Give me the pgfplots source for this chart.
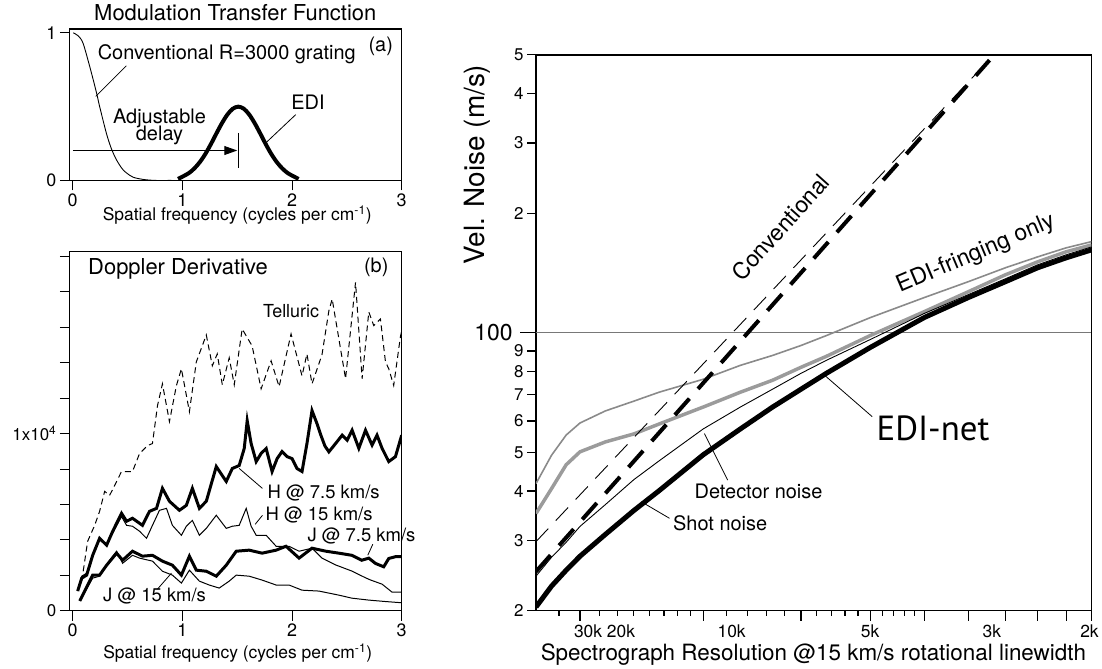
\documentclass[border=0pt]{standalone}
\usepackage{fontspec}
\setmainfont{TeX Gyre Heros}
\newfontfamily\myriad{PT Sans}
\usepackage{pgfplots}
\pgfplotsset{compat=1.18}
\usetikzlibrary{arrows.meta}
\newcommand\fs[1]{\fontsize{#1}{#1}\selectfont}
\definecolor{thingray}{RGB}{138,138,138}
\definecolor{thickgray}{RGB}{155,155,155}
\definecolor{hgray}{RGB}{120,120,120}
\begin{document}
\begin{tikzpicture}
\begin{scope}[x=1pt,y=1pt]
\useasboundingbox (0,0) rectangle (1102,-671);
\end{scope}
% ---------------- panel (a)
\begin{axis}[at={(70pt,-181pt)}, anchor=south west, scale only axis,
  width=333pt, height=152pt,
  xmin=-0.027, xmax=3.0, ymin=0, ymax=1.027,
  axis line style={line width=1.2pt},
  xtick={0,1,2,3}, xticklabels={0,1,2,3},
  ytick={0,1}, yticklabels={0,1},
  tick align=outside, major tick length=10pt,
  xtick pos=left, ytick pos=left,
  tick style={line width=1pt,black},
  ticklabel style={font=\fs{18}},
  /pgf/number format/assume math mode=true,
  clip mode=individual]
\addplot[black, line width=0.9pt, smooth] coordinates {
(0.005,1.0)(0.05,0.98)(0.094,0.93)(0.155,0.772)(0.215,0.60)(0.245,0.502)(0.306,0.322)
(0.35,0.22)(0.397,0.142)(0.45,0.08)(0.488,0.052)(0.55,0.022)(0.64,0.007)(0.75,0.0)(0.9,0.0)};
\addplot[black, line width=4pt, smooth] coordinates {
(0.96,0.010)(1.01,0.029)(1.06,0.050)(1.11,0.082)(1.16,0.125)(1.21,0.180)(1.26,0.246)
(1.31,0.318)(1.36,0.387)(1.41,0.446)(1.46,0.486)(1.51,0.5)(1.56,0.486)(1.61,0.446)
(1.66,0.387)(1.71,0.318)(1.76,0.246)(1.81,0.180)(1.86,0.125)(1.91,0.082)(1.96,0.050)
(2.01,0.029)(2.06,0.010)};
\end{axis}
% ---------------- panel (b)
\begin{axis}[at={(70pt,-612.7pt)}, anchor=south west, scale only axis,
  width=333pt, height=360.7pt,
  xmin=-0.027, xmax=3.0, ymin=0, ymax=2.03,
  axis line style={line width=1.2pt},
  xtick={0,1,2,3}, xticklabels={0,1,2,3},
  ytick={0,0.2,0.4,0.6,0.8,1.0,1.2,1.4,1.6,1.8,2.0},
  yticklabels={0,{},{},{},{},{1x10\textsuperscript{4}},{},{},{},{},{}},
  tick align=outside, major tick length=10pt,
  xtick pos=left, ytick pos=left,
  tick style={line width=1pt,black},
  xticklabel style={font=\fs{18}},
  yticklabel style={font=\fs{17}},
  /pgf/number format/assume math mode=true,
  clip mode=individual]
% Telluric
\addplot[black, line width=1pt, dash pattern=on 6pt off 4pt] coordinates {
(0.082,0.167)(0.136,0.392)(0.200,0.482)(0.245,0.561)(0.291,0.674)(0.336,0.651)(0.382,0.707)
(0.445,0.786)(0.545,0.786)(0.609,0.887)(0.682,0.932)(0.727,0.944)(0.773,1.158)(0.818,1.281)
(0.882,1.068)(0.945,1.270)(0.991,1.366)(1.064,1.124)(1.127,1.405)(1.218,1.557)(1.273,1.383)
(1.318,1.450)(1.364,1.276)(1.427,1.428)(1.473,1.276)(1.545,1.591)(1.636,1.495)(1.718,1.253)
(1.809,1.411)(1.882,1.265)(1.991,1.563)(2.091,1.326)(2.136,1.450)(2.182,1.281)(2.273,1.445)
(2.336,1.694)(2.366,1.760)(2.488,1.310)(2.579,1.854)(2.639,1.310)(2.700,1.687)(2.745,1.610)
(2.806,1.647)(2.852,1.405)(2.882,1.366)(2.927,1.272)(2.988,1.546)(3.0,1.58)};
% H @ 7.5
\addplot[black, line width=3pt] coordinates {
(0.045,0.111)(0.082,0.184)(0.127,0.201)(0.182,0.313)(0.245,0.409)(0.309,0.370)(0.364,0.448)
(0.445,0.550)(0.491,0.505)(0.545,0.522)(0.636,0.482)(0.700,0.561)(0.764,0.578)(0.818,0.691)
(0.882,0.618)(0.973,0.567)(1.036,0.595)(1.091,0.691)(1.155,0.578)(1.218,0.618)(1.309,0.814)
(1.400,0.730)(1.455,0.803)(1.518,0.820)(1.564,0.916)(1.591,1.073)(1.627,0.944)(1.673,0.842)
(1.718,0.888)(1.764,0.916)(1.818,0.786)(1.864,0.859)(1.909,0.899)(1.955,0.870)(2.000,0.859)
(2.045,0.803)(2.091,0.786)(2.136,0.944)(2.182,1.130)(2.227,1.057)(2.264,0.989)(2.300,0.930)
(2.336,0.897)(2.397,0.944)(2.457,0.991)(2.503,0.963)(2.548,1.019)(2.609,0.917)(2.670,1.019)
(2.730,0.935)(2.775,0.991)(2.821,0.917)(2.882,0.842)(2.943,0.870)(3.0,0.991)};
% H @ 15
\addplot[black, line width=1pt] coordinates {
(0.045,0.111)(0.082,0.195)(0.127,0.212)(0.182,0.319)(0.245,0.403)(0.309,0.375)(0.364,0.437)
(0.445,0.532)(0.491,0.482)(0.545,0.477)(0.609,0.449)(0.673,0.409)(0.727,0.482)(0.791,0.567)
(0.855,0.578)(0.909,0.482)(0.991,0.426)(1.036,0.477)(1.091,0.510)(1.155,0.426)(1.218,0.465)
(1.309,0.539)(1.400,0.465)(1.455,0.477)(1.518,0.482)(1.582,0.578)(1.627,0.477)(1.673,0.426)
(1.764,0.426)(1.855,0.364)(1.973,0.364)(2.064,0.336)(2.182,0.353)(2.273,0.297)(2.400,0.258)
(2.545,0.224)(2.673,0.185)(2.718,0.173)(2.821,0.15)(2.912,0.105)(3.0,0.105)};
% J @ 7.5
\addplot[black, line width=3pt] coordinates {
(0.064,0.055)(0.182,0.201)(0.245,0.201)(0.309,0.257)(0.400,0.325)(0.455,0.285)(0.545,0.336)
(0.636,0.308)(0.727,0.313)(0.818,0.280)(0.909,0.257)(0.991,0.201)(1.064,0.308)(1.127,0.229)
(1.218,0.223)(1.309,0.195)(1.400,0.257)(1.491,0.336)(1.609,0.342)(1.727,0.325)(1.855,0.342)
(1.945,0.364)(2.064,0.297)(2.182,0.353)(2.309,0.336)(2.427,0.325)(2.545,0.313)(2.636,0.285)
(2.700,0.297)(2.761,0.267)(2.836,0.248)(2.882,0.295)(2.943,0.305)(3.0,0.305)};
% J @ 15
\addplot[black, line width=1pt] coordinates {
(0.064,0.055)(0.182,0.184)(0.245,0.195)(0.336,0.285)(0.400,0.336)(0.455,0.268)(0.545,0.313)
(0.609,0.297)(0.727,0.280)(0.818,0.223)(0.909,0.201)(0.991,0.156)(1.064,0.229)(1.155,0.167)
(1.245,0.145)(1.336,0.128)(1.427,0.167)(1.491,0.201)(1.609,0.195)(1.727,0.173)(1.855,0.145)
(1.973,0.145)(2.091,0.116)(2.245,0.111)(2.427,0.088)(2.545,0.071)(2.700,0.060)(2.85,0.052)(3.0,0.045)};
\end{axis}
% ---------------- right panel
\begin{axis}[at={(537.7pt,-612.7pt)}, anchor=south west, scale only axis,
  width=557.3pt, height=557.7pt,
  xmode=log, ymode=log, xmin=15, xmax=150, ymin=20, ymax=500,
  xtick=\empty, minor x tick num=0,
  ytick={20,30,40,50,60,70,80,90,100,200,300,400,500},
  yticklabels={2,3,4,5,6,7,8,9,{\fs{23}100\hspace*{11pt}},2,3,4,5},
  tick align=outside, major tick length=9pt,
  ytick pos=left,
  axis line style={line width=1.5pt},
  tick style={line width=1.1pt,black},
  yticklabel style={font=\fs{17}},
  /pgf/number format/assume math mode=true,
  clip mode=individual]
\addplot[hgray, line width=0.9pt] coordinates {(15,100)(150,100)};
\addplot[thingray, line width=1.6pt] coordinates {
(15,41.74)(16,49.2)(17,55.3)(18,59.3)(20,63.6)(22.5,67.3)(25,70.9)(30,76.4)(35,82.8)(40,87.7)
(45,92.9)(50,98.4)(60,109.2)(75,122.6)(90,134.4)(105,145.7)(120,155.2)(135,163.5)(150,169.5)};
\addplot[thickgray, line width=3.5pt] coordinates {
(15,35.11)(16,40.55)(17,46.56)(18,50.18)(20,53.15)(22.5,55.66)(25,58.97)(30,65.04)(35,70.88)
(40,75.97)(45,81.88)(50,87.25)(60,98.45)(75,113.0)(90,126.8)(105,139.9)(120,150.8)(135,159.8)(150,166.3)};
\addplot[black, line width=0.9pt, dash pattern=on 18pt off 11pt] coordinates {(15,29.83)(99.0,492)};
\addplot[black, line width=4pt, dash pattern=on 22pt off 13pt] coordinates {(15,25.08)(98.3,484.7)};
\addplot[black, line width=0.9pt] coordinates {
(15,24.43)(16,27.25)(17,29.72)(18,32.58)(20,36.97)(22.5,42.71)(25,47.65)(30,57.30)(35,65.04)
(40,72.14)(45,79.09)(50,85.26)(60,96.2)(75,111.8)(90,124.7)(105,136.7)(120,148.2)(135,157.0)(150,164.4)};
\addplot[black, line width=5pt] coordinates {
(15,20.43)(16,23.06)(17,25.28)(18,27.41)(20,31.11)(22.5,35.72)(25,40.09)(30,49.33)(35,57.30)
(40,65.04)(45,72.13)(50,79.10)(60,91.89)(75,109.2)(90,122.6)(105,134.4)(120,145.7)(135,154.3)(150,161.6)};
\pgfplotsinvokeforeach{18,30,45,60,75,90,105,120,135,150}{
  \draw[line width=1.1pt] (axis cs:#1,20) -- ([yshift=-10pt]axis cs:#1,20);}
\pgfplotsinvokeforeach{16.5,19.5,21,22.5,24,25.5,27,28.5,33,36,39,42,48,51,54,57,63,66,69,72}{
  \draw[line width=1.1pt] (axis cs:#1,20) -- ([yshift=-5pt]axis cs:#1,20);}
\end{axis}
\begin{scope}[x=1pt,y=1pt]
% panel (a) annotations
\node[font=\fs{22}] at (236,-12.5) {Modulation Transfer Function};
\node[font=\fs{20}] at (227.5,-54.5) {Conventional R=3000 grating};
\draw[line width=0.8pt] (126.7,-66) -- (96,-96.7);
\node[font=\fs{20}, align=center, inner sep=0pt] at (160,-127) {Adjustable\\[-3pt]delay};
\node[font=\fs{20}] at (309,-103) {EDI};
\draw[line width=0.8pt] (296.7,-115) -- (266.7,-143.3);
\draw[line width=1pt, -{Triangle[length=13pt,width=9pt]}] (73,-151) -- (238,-151);
\draw[line width=1pt] (239,-133.3) -- (239,-168.3);
\node[font=\fs{20}] at (382,-47) {(a)};
\node[font=\fs{17.5}] at (238,-216) {Spatial frequency (cycles per cm\textsuperscript{-1})};
% panel (b) annotations
\node[font=\fs{22}, anchor=west] at (85,-270) {Doppler Derivative};
\node[font=\fs{20}] at (377.5,-268) {(b)};
\node[font=\fs{18}] at (292,-312) {Telluric};
\node[font=\fs{18.5}, anchor=west] at (265,-495) {H @ 7.5 km/s};
\draw[line width=0.8pt] (263.3,-490) -- (240,-470);
\node[font=\fs{18.5}, anchor=west] at (263,-516.5) {H @ 15 km/s};
\draw[line width=0.8pt] (263.3,-517) -- (256,-526);
\node[font=\fs{18.5}, anchor=west] at (305,-538) {J @ 7.5 km/s};
\draw[line width=0.8pt] (374,-546) -- (369,-557);
\node[font=\fs{18.5}, anchor=west] at (100,-598) {J @ 15 km/s};
\draw[line width=0.8pt] (158,-591) -- (172,-575);
\node[font=\fs{17.5}] at (238.5,-655) {Spatial frequency (cycles per cm\textsuperscript{-1})};
% right panel annotations
\draw[line width=1.1pt] (521.7,-333.3) -- (537.7,-333.3);
\foreach \xx/\lab in {590/30k,623/20k,734/10k,873/5k,995/3k,1093/2k}
  \node[font=\fs{17.5}] at (\xx,-633) {\lab};
\node[font=\fs{22.5}] at (816,-656.7) {Spectrograph Resolution @15 km/s rotational linewidth};
\node[font=\fs{28}, rotate=90] at (478.5,-165) {Vel. Noise (m/s)};
\node[font=\fs{23}, rotate=48] at (783,-228) {Conventional};
\node[font=\fs{23}, rotate=23] at (979,-255) {EDI-fringing only};
\node[font=\myriad\fs{35}] at (936,-430) {EDI-net};
\draw[line width=0.8pt] (875,-418) -- (826.7,-376);
\node[font=\fs{20}] at (761,-493) {Detector noise};
\draw[line width=0.8pt] (730,-481.7) -- (706.7,-435);
\node[font=\fs{20}] at (722.5,-525) {Shot noise};
\draw[line width=0.8pt] (671.7,-520) -- (643.3,-503.3);
\end{scope}
\end{tikzpicture}
\end{document}
